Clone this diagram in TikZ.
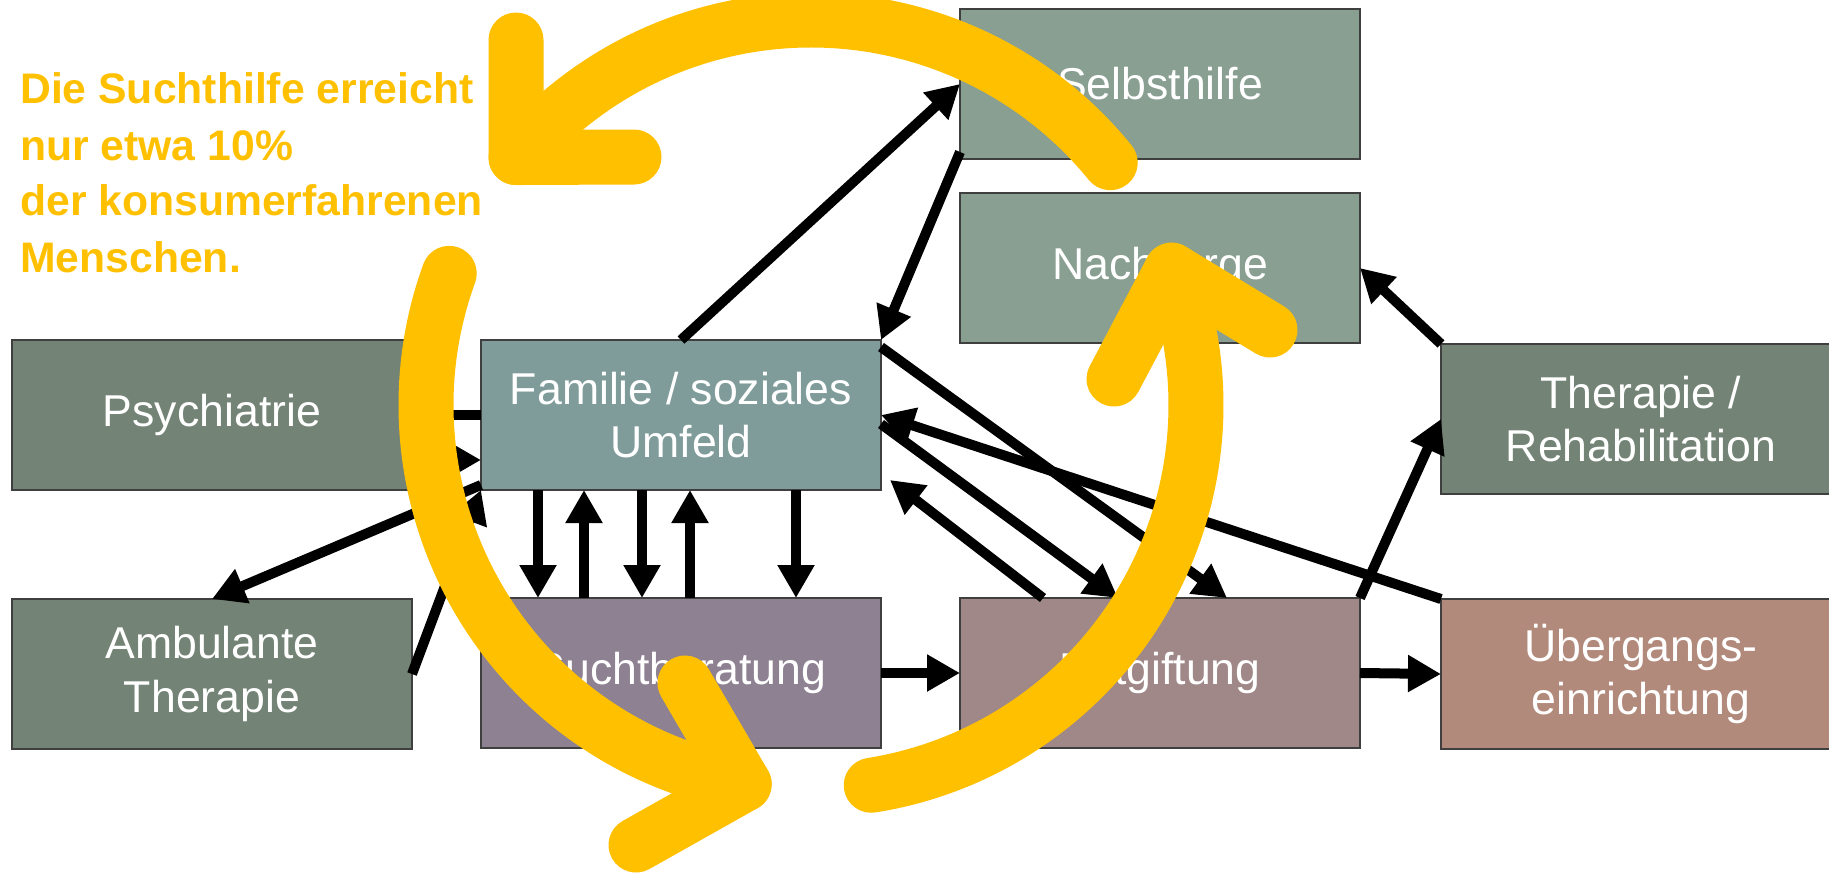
\documentclass[tikz,border=0pt]{standalone}
\usepackage{fontspec}
\setmainfont{Liberation Sans}
\usetikzlibrary{arrows.meta,calc}
\definecolor{ylw}{HTML}{FFC000}
\definecolor{boxline}{HTML}{3F3F3F}
\definecolor{cpsy}{HTML}{738375}
\definecolor{csel}{HTML}{899F92}
\definecolor{cfam}{HTML}{7F9C9B}
\definecolor{csuch}{HTML}{8E8192}
\definecolor{cent}{HTML}{A08888}
\definecolor{cueb}{HTML}{B28A7C}
\tikzset{
  box/.style={draw=boxline, line width=2.5pt, minimum width=400pt, minimum height=150pt,
    inner sep=0pt, outer sep=0pt, text=white, align=center,
    font=\fontsize{44.6}{53.5}\selectfont},
  conn/.style={line width=10pt, -{Triangle[length=33pt,width=35pt]}},
  loopstroke/.style={draw=ylw, line width=55pt, line cap=round, line join=round},
  note/.style={text=ylw, font=\fontsize{42.7}{57}\selectfont\bfseries, anchor=base west, inner sep=0pt},
}
\begin{document}
\begin{tikzpicture}[x=1pt,y=-1pt]
\useasboundingbox (0,0) rectangle (1829,873);
\clip (0,0) rectangle (1829,873);
\fill[white] (0,0) rectangle (1829,873);

% boxes
\node[box, fill=cpsy]  (psy)  at (212,415)  {Psychiatrie};
\node[box, fill=cfam]  (fam)  at (681,415)  {Familie / soziales\\Umfeld};
\node[box, fill=csel]  (sel)  at (1160,84)  {Selbsthilfe};
\node[box, fill=csel]  (nach) at (1160,268) {Nachsorge};
\node[box, fill=cpsy]  (ther) at (1641,419) {Therapie /\\Rehabilitation};
\node[box, fill=cpsy]  (amb)  at (212,674)  {Ambulante\\Therapie};
\node[box, fill=csuch] (such) at (681,673)  {Suchtberatung};
\node[box, fill=cent]  (ent)  at (1160,673) {Entgiftung};
\node[box, fill=cueb]  (ueb)  at (1641,674) {Übergangs-\\einrichtung};

% note text
\node[note] (n1) at (20,103) {Die Suchthilfe erreicht};
\node[note] (n2) at (20,160) {nur etwa 10\%};
\node[note] (n3) at (20,215) {der konsumerfahrenen};
\node[note] (n4) at (20,272) {Menschen.};

% connectors
\draw[conn] (fam.north) -- (sel.west);
\draw[conn] ([yshift=7pt]sel.south west) -- (fam.north east);
\draw[conn] (ther.north west) -- (nach.east);
\draw[conn] (ent.north east) -- (ther.west);
\draw[conn] (ueb.north west) -- (fam.east);
\draw[conn] ([yshift=-7pt]fam.north east) -- ([xshift=67pt]ent.north);
\draw[conn] ([yshift=-9pt]fam.east) -- ([xshift=-42pt]ent.north);
\draw[conn] ([xshift=-117pt]ent.north) -- ([xshift=9pt,yshift=10pt]fam.south east);
\draw[conn] ([xshift=-143pt]fam.south) -- ([xshift=-143pt]such.north);
\draw[conn] ([xshift=-97pt]such.north) -- ([xshift=-97pt]fam.south);
\draw[conn] ([xshift=-39pt]fam.south) -- ([xshift=-39pt]such.north);
\draw[conn] ([xshift=9pt]such.north) -- ([xshift=9pt]fam.south);
\draw[conn] ([xshift=115pt]fam.south) -- ([xshift=115pt]such.north);
\draw[conn] (such.east) -- (ent.west);
\draw[conn] (ent.east) -- (ueb.west);
\draw[conn] (fam.west) -- (psy.east);
\draw[conn] ([yshift=-45pt]psy.east) -- ([yshift=-45pt]fam.west);
\draw[conn] ([yshift=5pt]fam.south west) -- (amb.north);
\draw[conn] (amb.east) -- (fam.south west);

% yellow cycle
\coordinate (C) at (811,405);
\draw[loopstroke] ([shift={(-39:385)}]C) arc[start angle=-39, end angle=-140, radius=385] coordinate (t1);
\draw[loopstroke] (516,40) -- (t1) -- (634,157);
\draw[loopstroke] ([shift={(-160:385)}]C) arc[start angle=-160, end angle=-260, radius=385] coordinate (t2);
\draw[loopstroke] (685,683) -- (t2) -- (636,845);
\draw[loopstroke] ([shift={(-279:385)}]C) arc[start angle=-279, end angle=-380.5, radius=385] coordinate (t3);
\draw[loopstroke] (1114,379) -- (t3) -- (1270,330);
\end{tikzpicture}
\end{document}
